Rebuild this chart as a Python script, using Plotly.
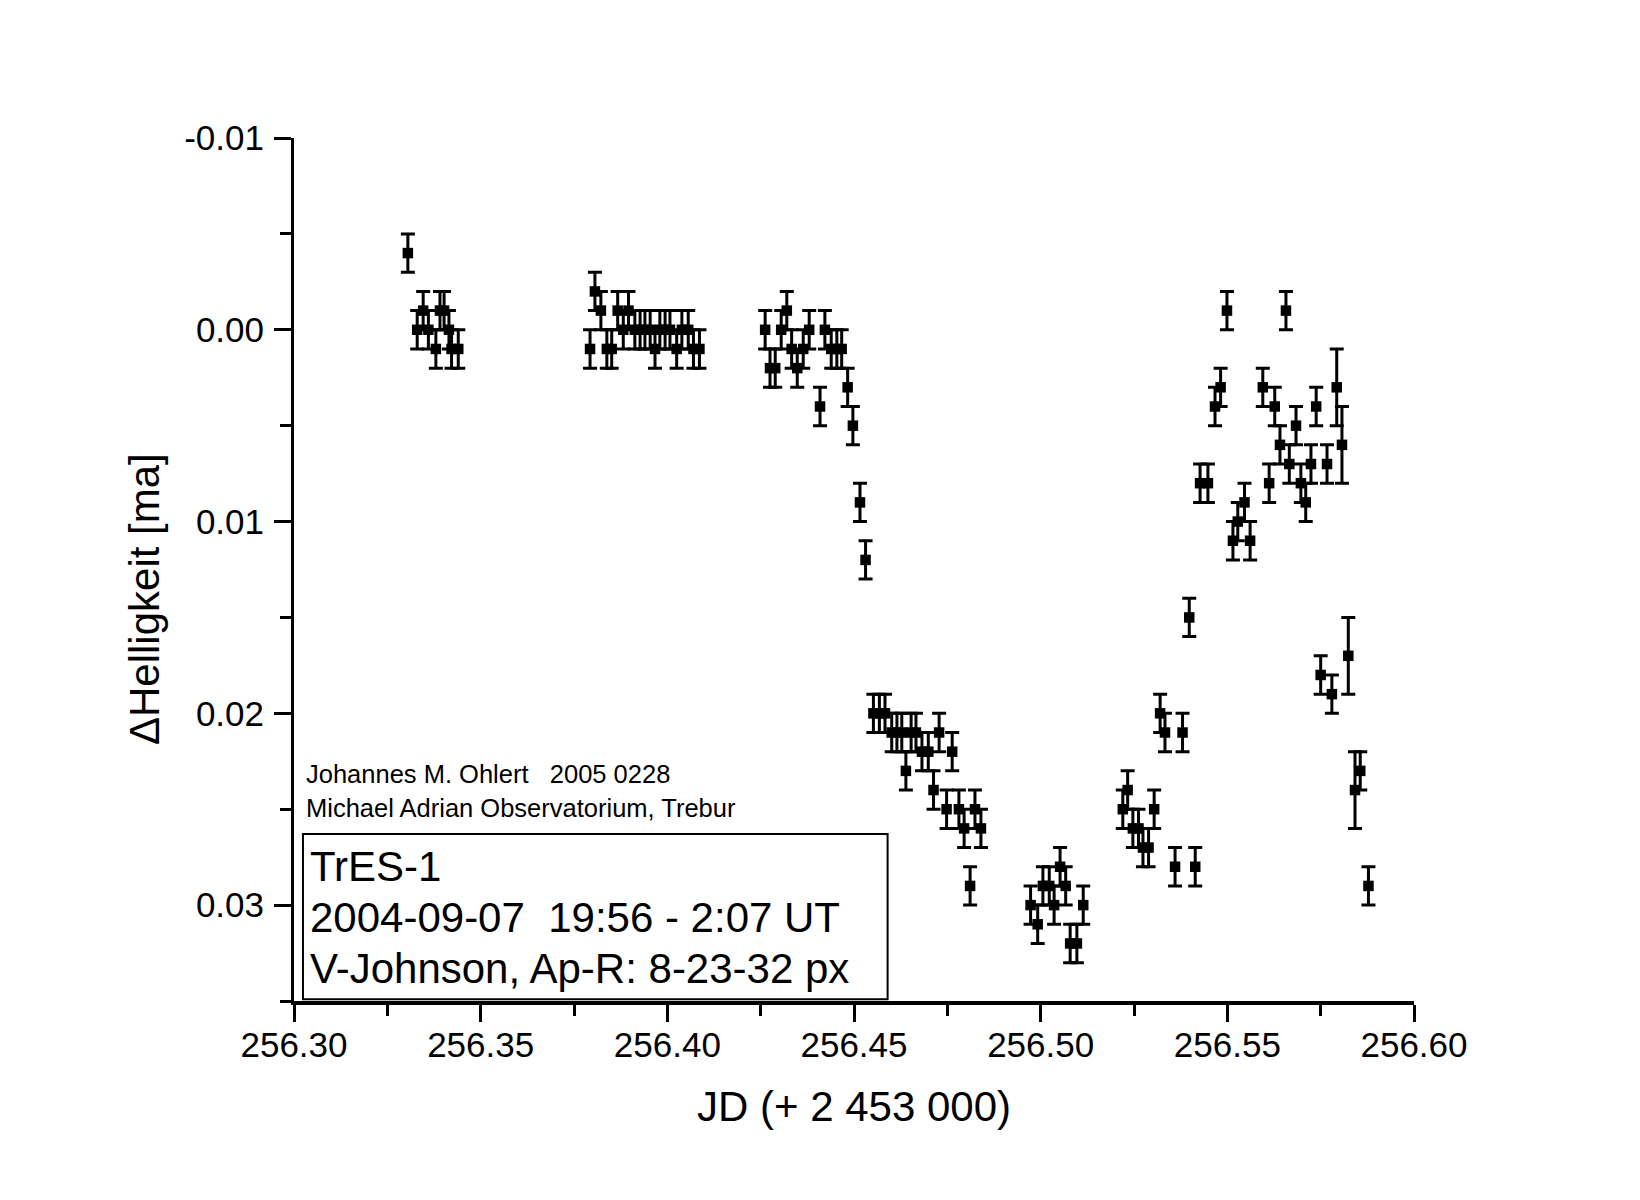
import plotly.graph_objects as go

# ---- data (JD - 2453000, delta magnitude, error) ----
jd = [
    256.3305, 256.3330, 256.3346, 256.3360, 256.3380, 256.3391, 256.3402, 256.3415, 256.3422, 256.3440,
    256.3793, 256.3806, 256.3822, 256.3838, 256.3851, 256.3867, 256.3882, 256.3896, 256.3913, 256.3927,
    256.3940, 256.3954, 256.3967, 256.3980, 256.3994, 256.4007, 256.4025, 256.4039, 256.4056, 256.4070,
    256.4086,
    256.4262, 256.4275, 256.4289, 256.4305, 256.4320, 256.4333, 256.4348, 256.4364, 256.4380, 256.4409,
    256.4422, 256.4439, 256.4454, 256.4467, 256.4483, 256.4497, 256.4516, 256.4531,
    256.4552, 256.4568, 256.4583, 256.4601, 256.4615, 256.4628, 256.4639, 256.4653, 256.4666, 256.4682,
    256.4699, 256.4713, 256.4728, 256.4748, 256.4763, 256.4781, 256.4795, 256.4811, 256.4824, 256.4840,
    256.4973, 256.4992, 256.5006, 256.5023, 256.5036, 256.5052, 256.5067, 256.5079, 256.5097, 256.5114,
    256.5220, 256.5233, 256.5247, 256.5262, 256.5274, 256.5289, 256.5304, 256.5320, 256.5333, 256.5360,
    256.5380, 256.5398, 256.5414, 256.5427, 256.5448, 256.5467, 256.5482, 256.5499, 256.5515, 256.5528,
    256.5546, 256.5561, 256.5595, 256.5612, 256.5627, 256.5641, 256.5657, 256.5666, 256.5684, 256.5697,
    256.5710, 256.5724, 256.5738, 256.5750, 256.5767, 256.5780, 256.5793, 256.5807, 256.5824, 256.5842,
    256.5856, 256.5878,
]
dmag = [
    -0.004, 0.000, -0.001, 0.000, 0.001, -0.001, -0.001, 0.000, 0.001, 0.001,
    0.001, -0.002, -0.001, 0.001, 0.001, -0.001, 0.000, -0.001, 0.000, 0.000,
    0.000, 0.000, 0.001, 0.000, 0.000, 0.000, 0.001, 0.000, 0.000, 0.001,
    0.001,
    0.000, 0.002, 0.002, 0.000, -0.001, 0.001, 0.002, 0.001, 0.000, 0.004,
    0.000, 0.001, 0.001, 0.001, 0.003, 0.005, 0.009, 0.012,
    0.020, 0.020, 0.020, 0.021, 0.021, 0.021, 0.023, 0.021, 0.021, 0.022,
    0.022, 0.024, 0.021, 0.025, 0.022, 0.025, 0.026, 0.029, 0.025, 0.026,
    0.030, 0.031, 0.029, 0.029, 0.030, 0.028, 0.029, 0.032, 0.032, 0.030,
    0.025, 0.024, 0.026, 0.026, 0.027, 0.027, 0.025, 0.020, 0.021, 0.028,
    0.021, 0.015, 0.028, 0.008, 0.008, 0.004, 0.003, -0.001, 0.011, 0.010,
    0.009, 0.011, 0.003, 0.008, 0.004, 0.006, -0.001, 0.007, 0.005, 0.008,
    0.009, 0.007, 0.004, 0.018, 0.007, 0.019, 0.003, 0.006, 0.017, 0.024,
    0.023, 0.029,
]
err = [0.001] * len(jd)
for i in (-6, -5, -4, -3):
    err[len(jd) + i] = 0.002

# ---- axis ticks ----
x_tickvals = [256.30, 256.35, 256.40, 256.45, 256.50, 256.55, 256.60]
x_ticktext = ["256.30", "256.35", "256.40", "256.45", "256.50", "256.55", "256.60"]
y_tickvals = [-0.01, 0.00, 0.01, 0.02, 0.03]
y_ticktext = ["-0.01", "0.00", "0.01", "0.02", "0.03"]

FONT = "Liberation Sans, Arial, sans-serif"

fig = go.Figure()
fig.add_trace(go.Scatter(
    x=jd, y=dmag, mode="markers",
    marker=dict(symbol="square", size=10.5, color="black", line=dict(width=0)),
    error_y=dict(type="data", array=err, visible=True, color="black", thickness=3, width=7),
    showlegend=False,
))

fig.update_layout(
    width=1640, height=1200,
    margin=dict(l=286, r=234, t=130, b=207),
    paper_bgcolor="white", plot_bgcolor="white",
    font=dict(family=FONT, color="black"),
    xaxis=dict(
        range=[256.30, 256.60], tickvals=x_tickvals, ticktext=x_ticktext,
        showgrid=False, zeroline=False, showline=True, linecolor="black", linewidth=4,
        ticks="outside", ticklen=17, tickwidth=3, tickcolor="black",
        minor=dict(tickvals=[256.325, 256.375, 256.425, 256.475, 256.525, 256.575],
                   ticks="outside", ticklen=11, tickwidth=3, tickcolor="black"),
        tickfont=dict(size=35, family=FONT),
        ticklabelstandoff=-7,
        title=dict(text="JD (+ 2 453 000)", font=dict(size=42, family=FONT), standoff=30),
    ),
    yaxis=dict(
        range=[0.035, -0.01], tickvals=y_tickvals, ticktext=y_ticktext,
        showgrid=False, zeroline=False, showline=True, linecolor="black", linewidth=3,
        ticks="outside", ticklen=17, tickwidth=3, tickcolor="black",
        minor=dict(tickvals=[-0.005, 0.005, 0.015, 0.025, 0.035],
                   ticks="outside", ticklen=11, tickwidth=3, tickcolor="black"),
        tickfont=dict(size=35, family=FONT),
        ticklabelstandoff=3,
    ),
)

# y-axis title placed as rotated annotation
fig.add_annotation(text="ΔHelligkeit [ma]", xref="paper", yref="paper", x=-0.1339, y=0.4658,
                   xanchor="center", yanchor="middle", textangle=-90, showarrow=False,
                   font=dict(size=42, family=FONT, color="black"))

# info box
fig.add_shape(type="rect", xref="paper", yref="paper", x0=0.008, x1=0.530, y0=0.002, y1=0.1935,
              line=dict(color="black", width=2), fillcolor="rgba(0,0,0,0)")

box_lines = ["TrES-1", "2004-09-07  19:56 - 2:07 UT", "V-Johnson, Ap-R: 8-23-32 px"]
box_y = [0.1564, 0.0973, 0.0371]
for t, yy in zip(box_lines, box_y):
    fig.add_annotation(text=t.replace("  ", "&nbsp; "), xref="paper", yref="paper", x=0.0128, y=yy,
                       xanchor="left", yanchor="middle", showarrow=False,
                       font=dict(size=42, family=FONT, color="black"))

small_lines = ["Johannes M. Ohlert &nbsp; 2005 0228", "Michael Adrian Observatorium, Trebur"]
small_y = [0.263, 0.2242]
for t, yy in zip(small_lines, small_y):
    fig.add_annotation(text=t, xref="paper", yref="paper", x=0.0085, y=yy,
                       xanchor="left", yanchor="middle", showarrow=False,
                       font=dict(size=25.5, family=FONT, color="black"))

fig.write_html("out.html")
